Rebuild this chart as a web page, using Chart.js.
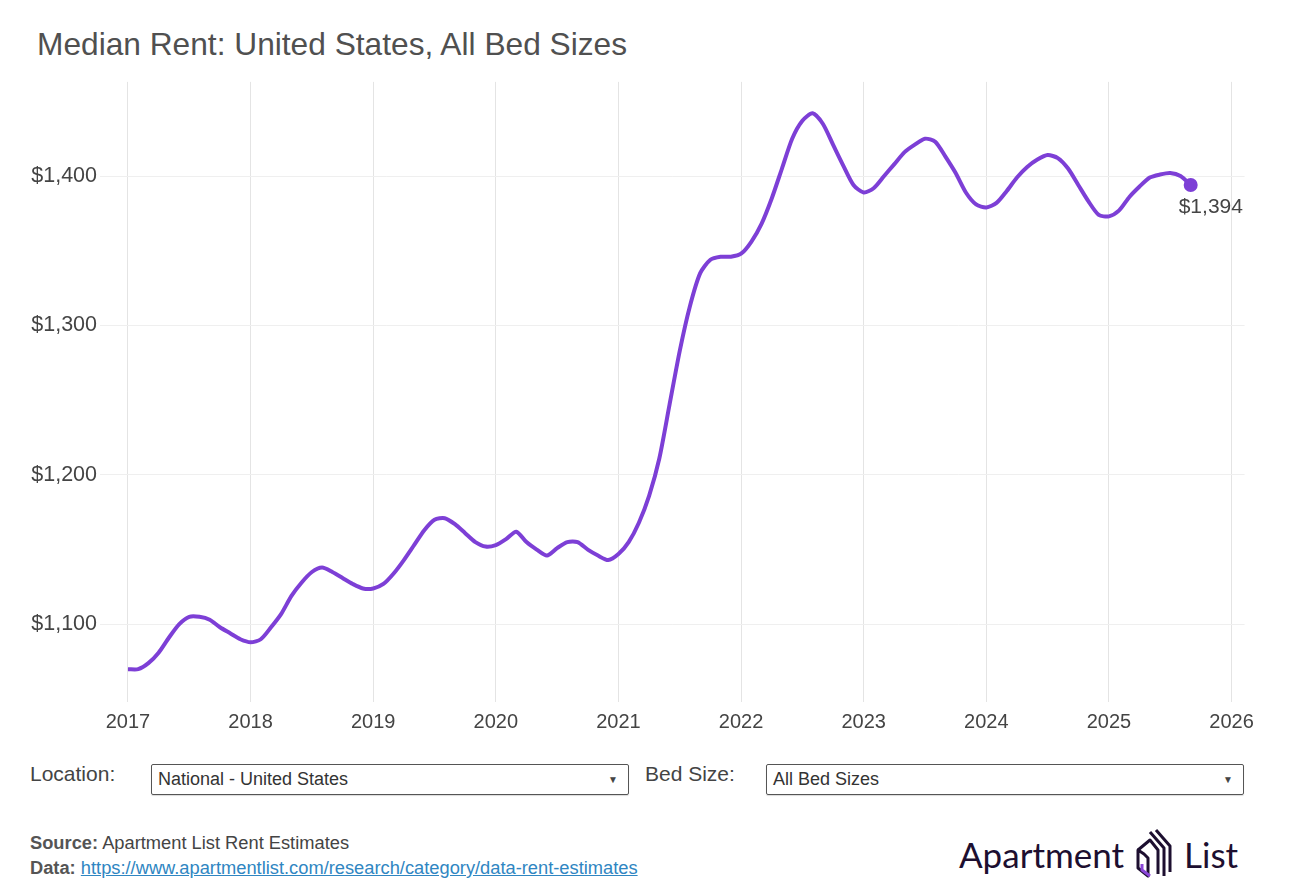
<!DOCTYPE html>
<html>
<head>
<meta charset="utf-8">
<script src="https://cdn.jsdelivr.net/npm/chart.js@4"></script>
<style>
  body { margin: 0; background: #fff; font-family: "Liberation Sans", Arial, Helvetica, sans-serif; color: #444; }
  #page { position: relative; width: 1307px; height: 889px; overflow: hidden; }
  #title { position: absolute; left: 37px; top: 26px; font-size: 31.7px; color: #505050; white-space: nowrap; }
  #chartBox { position: absolute; left: 0; top: 66px; width: 1262px; height: 676px; }
  .lbl { position: absolute; font-size: 21px; color: #444; top: 762px; }
  .sel { position: absolute; top: 764px; height: 29px; border: 1px solid #555; border-radius: 2px;
         box-shadow: 0 1px 1px rgba(0,0,0,0.15); font-size: 18px; color: #333; line-height: 29px; padding-left: 6px; box-sizing: content-box; }
  .sel .arr { position: absolute; right: 10px; top: 0; font-size: 10px; color: #444; }
  .src { position: absolute; left: 30px; font-size: 18.3px; color: #444; }
  .src b { color: #555; }
  .src a { color: #2f86c2; text-decoration: underline; }
  #logo { position: absolute; left: 959px; top: 828px; height: 52px; display: flex; align-items: center;
          font-family: "Lato", "Noto Sans", sans-serif; font-size: 35px; color: #1d0f30; white-space: nowrap; }
</style>
</head>
<body>
<div id="page">
  <div id="title">Median Rent: United States, All Bed Sizes</div>
  <div id="chartBox"><canvas id="rentChart"></canvas></div>

  <div class="lbl" style="left:30px;">Location:</div>
  <div class="sel" style="left:151px; width:470px;">National - United States<span class="arr">&#9660;</span></div>
  <div class="lbl" style="left:645px;">Bed Size:</div>
  <div class="sel" style="left:766px; width:470px;">All Bed Sizes<span class="arr">&#9660;</span></div>

  <div class="src" style="top:832px;"><b>Source:</b> Apartment List Rent Estimates</div>
  <div class="src" style="top:857px;"><b>Data:</b> <a>https://www.apartmentlist.com/research/category/data-rent-estimates</a></div>

  <div id="logo">
    <span>Apartment</span>
    <svg width="44" height="52" viewBox="0 0 44 52" style="margin:0 6px 0 10px;">
      <path d="M4 22 L4 40 L14 48 L14 30 L10 26 Z" fill="none" stroke="#1d0f30" stroke-width="3" stroke-linejoin="round"/>
      <path d="M4 22 L16 12 L24 22 L24 46" fill="none" stroke="#1d0f30" stroke-width="3" stroke-linejoin="round"/>
      <path d="M16 4 L30 20 L30 48" fill="none" stroke="#1d0f30" stroke-width="3" stroke-linejoin="round"/>
      <path d="M22 2 L36 18 L36 44" fill="none" stroke="#1d0f30" stroke-width="3" stroke-linejoin="round"/>
      <path d="M8 36 L8 42 L16 48" fill="none" stroke="#8a45d8" stroke-width="3" stroke-linejoin="round"/>
    </svg>
    <span>List</span>
  </div>
</div>

<script>
// monthly median rent, Jan 2017 .. Sep 2025
const startYear = 2017;
const rent = [
  1070, 1070, 1074, 1081, 1091, 1100, 1105, 1105, 1103, 1098, 1094, 1090,
  1088, 1090, 1098, 1107, 1119, 1128, 1135, 1138, 1135, 1131, 1127, 1124,
  1124, 1127, 1134, 1143, 1153, 1163, 1170, 1171, 1167, 1161, 1155, 1152,
  1153, 1157, 1162, 1155, 1150, 1146, 1151, 1155, 1155, 1150, 1146, 1143,
  1147, 1155, 1168, 1186, 1211, 1247, 1283, 1313, 1335, 1344, 1346, 1346,
  1348, 1356, 1368, 1385, 1405, 1425, 1437, 1442, 1435, 1421, 1407, 1394,
  1389, 1392, 1400, 1408, 1416, 1421, 1425, 1423, 1413, 1402, 1389, 1381,
  1379, 1382, 1390, 1399, 1406, 1411, 1414, 1412, 1405, 1394, 1383, 1374,
  1373, 1377, 1386, 1393, 1399, 1401, 1402, 1400, 1394
];
const yearTicks = [2017, 2018, 2019, 2020, 2021, 2022, 2023, 2024, 2025, 2026];
const rentTicks = [1100, 1200, 1300, 1400];

const lineColor = "#7d3fd6";
const points = rent.map((v, i) => ({ x: startYear + i / 12, y: v }));

function money(v) {
  return "$" + Number(v).toLocaleString("en-US");
}

// label next to the last point
const endLabel = {
  id: "endLabel",
  afterDatasetsDraw(chart) {
    const meta = chart.getDatasetMeta(0);
    const last = meta.data[meta.data.length - 1];
    const c = chart.ctx;
    c.save();
    c.font = "21px 'Liberation Sans', Arial, sans-serif";
    c.fillStyle = "#444";
    c.textAlign = "left";
    c.textBaseline = "middle";
    c.fillText(money(rent[rent.length - 1]), last.x - 12, last.y + 22);
    c.restore();
  }
};

Chart.defaults.font.family = "'Liberation Sans', Arial, Helvetica, sans-serif";

let chartInstance = new Chart(document.getElementById("rentChart").getContext("2d"), {
  type: "line",
  data: {
    datasets: [{
      data: points,
      borderColor: lineColor,
      backgroundColor: lineColor,
      borderWidth: 4,
      tension: 0.25,
      pointRadius: ctx => ctx.dataIndex === rent.length - 1 ? 5 : 0,
      pointHoverRadius: 0,
      fill: false
    }]
  },
  options: {
    responsive: true,
    maintainAspectRatio: false,
    animation: false,
    layout: { padding: { top: 8, right: 17, left: 0, bottom: 0 } },
    plugins: {
      legend: { display: false },
      tooltip: { enabled: false }
    },
    scales: {
      x: {
        type: "linear",
        min: 2016.772,
        max: 2026.106,
        afterBuildTicks: axis => { axis.ticks = yearTicks.map(v => ({ value: v })); },
        grid: { color: "#e4e4e4", drawTicks: false },
        border: { display: false },
        ticks: {
          color: "#444",
          font: { size: 20 },
          padding: 8,
          maxRotation: 0,
          autoSkip: false,
          callback: v => String(v)
        }
      },
      y: {
        min: 1048,
        max: 1463,
        afterBuildTicks: axis => { axis.ticks = rentTicks.map(v => ({ value: v })); },
        afterFit: axis => { axis.width = 100; },
        grid: { color: "#efefef", drawTicks: false },
        border: { display: false },
        ticks: {
          color: "#444",
          font: { size: 21.5 },
          padding: 3,
          callback: v => money(v)
        }
      }
    }
  },
  plugins: [endLabel]
});
</script>
</body>
</html>
